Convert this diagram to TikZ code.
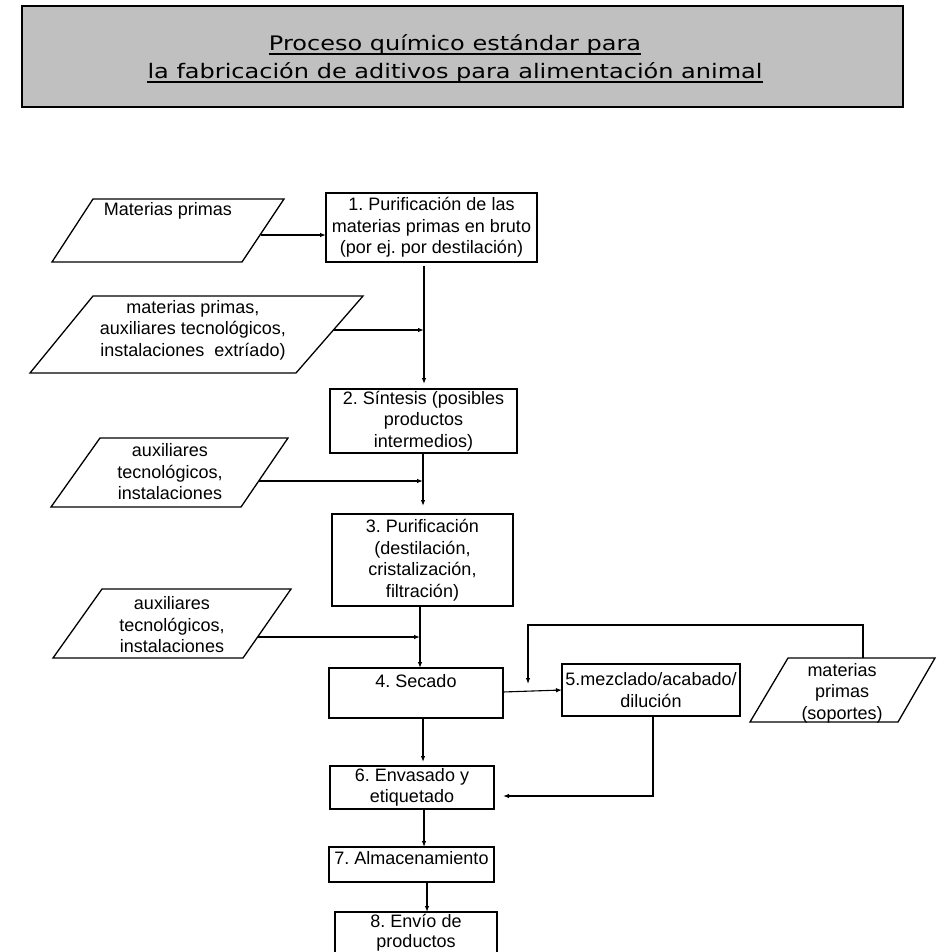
\documentclass[tikz,border=0pt]{standalone}
\usepackage{fontspec}
\setmainfont{Liberation Sans}
\newfontfamily\titlefont[FakeStretch=1.2]{DejaVu Sans}
\usetikzlibrary{arrows.meta,calc}
\definecolor{titlegray}{RGB}{192,192,192}
\begin{document}
\frenchspacing
\begin{tikzpicture}[x=1pt,y=-1pt,
  box/.style={draw, line width=1.3pt, inner sep=0pt, outer sep=0pt, align=center,
              font=\fontsize{18}{21.5}\selectfont},
  txt/.style={font=\fontsize{18}{21.5}\selectfont, align=center, inner sep=0pt},
  ttl/.style={font=\titlefont\fontsize{20}{28}\selectfont, inner sep=0pt, anchor=base},
  conn/.style={line width=1.1pt, -{Latex[length=6pt,width=4.5pt]}},
  para/.style={draw, line width=1.3pt, line join=miter}]
\useasboundingbox (0,0) rectangle (941,952);

% title
\node[draw, line width=2.5pt, fill=titlegray, minimum width=881pt, minimum height=101pt,
      inner sep=0pt] (title) at (462.5,56.5) {};
\node[ttl] (tl1) at (455,51) {Proceso químico estándar para\ };
\node[ttl] (tl2) at (455,79) {la fabricación de aditivos para alimentación animal};
\draw[line width=1.2pt] ($(tl1.base west)+(0,3)$) -- ($(tl1.base east)+(0,3)$);
\draw[line width=1.2pt] ($(tl2.base west)+(0,3)$) -- ($(tl2.base east)+(0,3)$);

% process boxes
\node[box, minimum width=211pt, minimum height=69pt] (b1) at (431.5,227.5)
  {1. Purificación de las\\materias primas en bruto\\(por ej. por destilación)};
\node[box, minimum width=187pt, minimum height=64pt] (b2) at (423.5,421)
  {2. Síntesis (posibles\\productos\\intermedios)};
\node[box, minimum width=181pt, minimum height=92pt] (b3) at (422.5,560)
  {3. Purificación\\(destilación,\\cristalización,\\filtración)};
\node[box, minimum width=174pt, minimum height=50pt] (b4) at (416,693) {};
\node[txt] (t4) at (416,681) {4. Secado};
\node[box, minimum width=178pt, minimum height=52pt] (b5) at (651,690)
  {5.mezclado/acabado/\\dilución};
\node[box, minimum width=164pt, minimum height=43pt] (b6) at (412,787.5)
  {6. Envasado y\\etiquetado};
\node[box, minimum width=165pt, minimum height=35pt] (b7) at (411.5,864.5) {};
\node[txt] (t7) at (411.5,858) {7. Almacenamiento};
\node[box, minimum width=162pt, minimum height=78pt] (b8) at (416,951) {};
\node[txt, font=\fontsize{18}{19.5}\selectfont] (t8) at (416,932.5) {8. Envío de\\productos};

% input parallelograms
\draw[para] (93,199) -- (284,199) -- (242,262) -- (52,262) -- cycle;
\node[txt] (pt1) at (168,211) {Materias primas};
\draw[para] (93,296) -- (363,296) -- (296,373) -- (30,373) -- cycle;
\node[txt] (pt2) at (193,330) {materias primas,\\auxiliares tecnológicos,\\instalaciones\ \ extríado)};
\draw[para] (100,438) -- (288,438) -- (241,507) -- (51,507) -- cycle;
\node[txt] (pt3) at (170,472) {auxiliares\\tecnológicos,\\instalaciones};
\draw[para] (102,589) -- (291,589) -- (243,658) -- (53,658) -- cycle;
\node[txt] (pt4) at (172,625) {auxiliares\\tecnológicos,\\instalaciones};
\draw[para] (788,658) -- (935,658) -- (898,722) -- (750,722) -- cycle;
\node[txt] (pt5) at (842,693) {materias\\primas\\(soportes)};

% connector points
\coordinate (p1e) at (260.6,235);
\coordinate (p2e) at (333,330);
\coordinate (p3e) at (258.7,481);
\coordinate (p4e) at (257.6,637);
\coordinate (p5t) at (863,658);
\coordinate (j1) at (424,330);
\coordinate (j2) at (423,481);
\coordinate (j3) at (420,637);
\coordinate (j4) at (423,740);
\coordinate (j5) at (424,828);
\coordinate (j6) at (427,897);
\coordinate (f1) at (863,625);
\coordinate (f2) at (528,625);
\coordinate (f3) at (528,684);
\coordinate (k) at (653,796);

% connectors
\draw[conn] (p1e) -- (p1e -| b1.west);
\draw[conn] ($(b1.south -| j1)+(0,4)$) -- ($(b2.north -| j1)+(0,-5)$);
\draw[conn] (p2e) -- (j1);
\draw[conn] (b2.south -| j2) -- ($(b3.north -| j2)+(0,-8)$);
\draw[conn] (p3e) -- (j2);
\draw[conn] (b3.south -| j3) -- (b4.north -| j3);
\draw[conn] (p4e) -- (j3);
\draw[conn] ($(b4.east)+(0,-1)$) -- (b5.west);
\draw[conn] (p5t) -- (f1) -- (f2) -- (f3);
\draw[conn] (b4.south -| j4) -- ($(b6.north -| j4)+(0,-4)$);
\draw[conn] (b5.south -| k) -- (k) -- ($(b6.east |- k)+(9,0)$);
\draw[conn] (b6.south -| j5) -- (b7.north -| j5);
\draw[conn] (b7.south -| j6) -- (b8.north -| j6);
\end{tikzpicture}
\end{document}
